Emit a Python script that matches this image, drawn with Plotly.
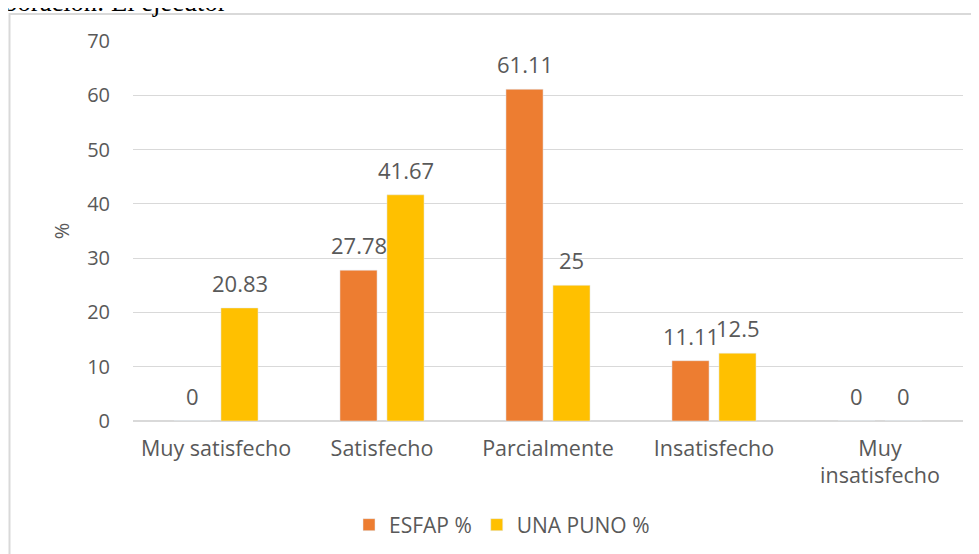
import plotly.graph_objects as go

categories = ["Muy satisfecho", "Satisfecho", "Parcialmente", "Insatisfecho", "Muy<br>insatisfecho"]
esfap = [0, 27.78, 61.11, 11.11, 0]
una_puno = [20.83, 41.67, 25, 12.5, 0]
esfap_labels = ["0", "27.78", "61.11", "11.11", "0"]
una_labels = ["20.83", "41.67", "25", "12.5", "0"]
y_ticks = [0, 10, 20, 30, 40, 50, 60, 70]

FONT = "Open Sans"
GRAY = "#595959"
OFF = 8  # page body margin
W, H = 979 - OFF, 554 - OFF
ML, MT = 133 - OFF, 41 - OFF
PR, PB = 963 - OFF, 421 - OFF  # plot right / bottom in figure coords
MR, MB = W - PR, H - PB
PW = PR - ML
PH = PB - MT


def px_x(p):
    return (p - OFF - ML) / PW


def px_y(p):
    return (PB - (p - OFF)) / PH


fig = go.Figure()
fig.add_trace(go.Bar(name="ESFAP %", x=categories, y=esfap, marker_color="#ED7D31"))
fig.add_trace(go.Bar(name="UNA PUNO %", x=categories, y=una_puno, marker_color="#FFC000"))

annotations = []
for cat, v, t in zip(categories, esfap, esfap_labels):
    annotations.append(dict(x=cat, y=v, text=t, xref="x", yref="y", showarrow=False,
                            xanchor="center", yanchor="bottom", xshift=-23.5, yshift=8,
                            font=dict(family=FONT, size=22, color=GRAY)))
for cat, v, t in zip(categories, una_puno, una_labels):
    annotations.append(dict(x=cat, y=v, text=t, xref="x", yref="y", showarrow=False,
                            xanchor="center", yanchor="bottom", xshift=23.5, yshift=8,
                            font=dict(family=FONT, size=22, color=GRAY)))

annotations.append(dict(x=px_x(229), y=1, xref="paper", yref="paper",
                        text="Elaboración: El ejecutor", showarrow=False,
                        xanchor="right", yanchor="bottom", yshift=21.5,
                        font=dict(family="Liberation Serif", size=26.5, color="#000000")))

fig.update_layout(
    width=W, height=H,
    margin=dict(l=ML, r=MR, t=MT, b=MB, autoexpand=False),
    paper_bgcolor="white", plot_bgcolor="white",
    barmode="group", bargap=0.434, bargroupgap=0.21,
    font=dict(family=FONT, size=20, color=GRAY),
    showlegend=True,
    legend=dict(orientation="h", x=px_x(502), xanchor="center",
                y=px_y(525), yanchor="middle",
                font=dict(family=FONT, size=21, color=GRAY),
                itemwidth=30, traceorder="normal"),
    annotations=annotations,
    shapes=[dict(type="rect", xref="paper", yref="paper",
                 x0=px_x(9.5), x1=px_x(1020),
                 y0=px_y(600), y1=px_y(14),
                 line=dict(color="#d9d9d9", width=2), fillcolor="rgba(0,0,0,0)",
                 layer="below")],
)
fig.update_yaxes(range=[0, 70], tickvals=y_ticks, showgrid=True, gridcolor="#d9d9d9",
                 gridwidth=1, zeroline=True, zerolinecolor="#d9d9d9", showline=False,
                 ticks="", ticklabelstandoff=22,
                 tickfont=dict(family=FONT, size=20, color=GRAY),
                 title=dict(text="%", standoff=12, font=dict(family=FONT, size=20, color=GRAY)))
fig.update_xaxes(showgrid=False, showline=False, ticks="", ticklabelstandoff=12,
                 tickfont=dict(family=FONT, size=21.5, color=GRAY))

fig.write_html("out.html")
